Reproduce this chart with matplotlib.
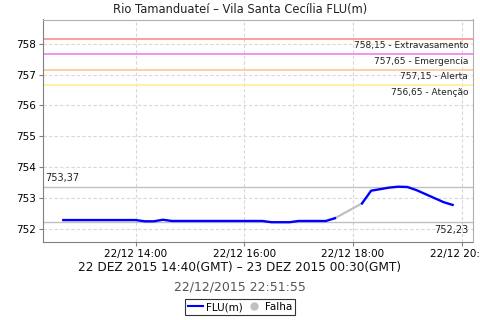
import datetime as dt
import numpy as np
import matplotlib
matplotlib.use("Agg")
import matplotlib.pyplot as plt
import matplotlib.dates as mdates
from matplotlib.lines import Line2D

# readings every 10 min from 22/12 12:40 (NaN = failure gap)
start = dt.datetime(2015, 12, 22, 12, 40)
level = [752.29, 752.29, 752.29, 752.29, 752.29, 752.29, 752.29, 752.29, 752.29,
         752.25, 752.25, 752.30, 752.26, 752.26, 752.26, 752.26, 752.26, 752.26,
         752.26, 752.26, 752.26, 752.26, 752.26, 752.22, 752.22, 752.22, 752.26,
         752.26, 752.26, 752.26, 752.35, np.nan, np.nan, 752.83, 753.24, 753.29,
         753.34, 753.37, 753.36, 753.26, 753.13, 753.00, 752.87, 752.78]
times = [start + dt.timedelta(minutes=10 * i) for i in range(len(level))]

thresholds = [758.15, 757.65, 757.15, 756.65]
threshold_names = ["Extravasamento", "Emergencia", "Alerta", "Atenção"]
threshold_colors = ["#ff8c8c", "#ee82ee", "#ffc890", "#fff08c"]
max_level = 753.37
min_level = 752.23

fig = plt.figure(figsize=(4.8, 3.2), dpi=100)
ax = fig.add_axes([43 / 480, 78 / 320, 429.5 / 480, 222.5 / 320])

t0 = dt.datetime(2015, 12, 22, 12, 17, 36)
t1 = dt.datetime(2015, 12, 22, 20, 12)
ax.set_xlim(t0, t1)
ax.set_ylim(751.58, 758.78)

for v, name, c in zip(thresholds, threshold_names, threshold_colors):
    ax.axhline(v, color=c, lw=1.2, zorder=2)
    ax.text(0.99, v - 0.08, f"{v:.2f}".replace(".", ",") + " - " + name,
            transform=ax.get_yaxis_transform(), ha="right", va="top",
            fontsize=6.5, color="#222222")

ax.axhline(max_level, color="#c0c0c0", lw=1, zorder=2)
ax.axhline(min_level, color="#c0c0c0", lw=1, zorder=2)
ax.text(0.005, max_level + 0.12, f"{max_level:.2f}".replace(".", ","),
        transform=ax.get_yaxis_transform(), ha="left", va="bottom",
        fontsize=7, color="#222222")
ax.text(0.99, min_level - 0.1, f"{min_level:.2f}".replace(".", ","),
        transform=ax.get_yaxis_transform(), ha="right", va="top",
        fontsize=7, color="#222222")

# gray segment over the gap
arr = np.array(level)
gap = np.where(np.isnan(arr))[0]
gi = [gap[0] - 1, gap[-1] + 1]
ax.plot([times[gi[0]], times[gi[1]]], [arr[gi[0]], arr[gi[1]]],
        color="#c0c0c0", lw=1.6, zorder=3)
ax.plot(times, arr, color="#0000ff", lw=1.7, zorder=4)

ax.set_yticks(range(752, 759))
ax.xaxis.set_major_locator(mdates.HourLocator(byhour=[14, 16, 18, 20]))
ax.xaxis.set_major_formatter(mdates.DateFormatter("%d/%m %H:%M"))
ax.tick_params(labelsize=7.5, length=3, color="#808080", pad=2)
ax.grid(True, color="#d8d8d8", ls=(0, (3, 2)), lw=0.8)
for s in ["top", "right"]:
    ax.spines[s].set_color("#b0b0b0")
for s in ["left", "bottom"]:
    ax.spines[s].set_color("#808080")

fig.text(0.5, 1 - 10 / 320, "Rio Tamanduateí – Vila Santa Cecília FLU(m)",
         ha="center", va="center", fontsize=8.3, color="#222222")
fig.text(0.5, 1 - 268 / 320, "22 DEZ 2015 14:40(GMT) – 23 DEZ 2015 00:30(GMT)",
         ha="center", va="center", fontsize=8.7, color="#111111")
fig.text(0.5, 1 - 287 / 320, "22/12/2015 22:51:55",
         ha="center", va="center", fontsize=9, color="#555555")

handles = [Line2D([], [], color="#0000ff", lw=1.5),
           Line2D([], [], color="#c0c0c0", marker="o", ls="", ms=5)]
leg = fig.legend(handles, ["FLU(m)", "Falha"], loc="center",
                 bbox_to_anchor=(0.5, 1 - 307 / 320), ncol=2, fontsize=7.5,
                 frameon=True, fancybox=False, handlelength=1.4,
                 handletextpad=0.3, columnspacing=0.4, borderpad=0.3,
                 borderaxespad=0)
leg.get_frame().set_edgecolor("black")
leg.get_frame().set_linewidth(0.8)

fig.savefig("out.png", dpi=100)
